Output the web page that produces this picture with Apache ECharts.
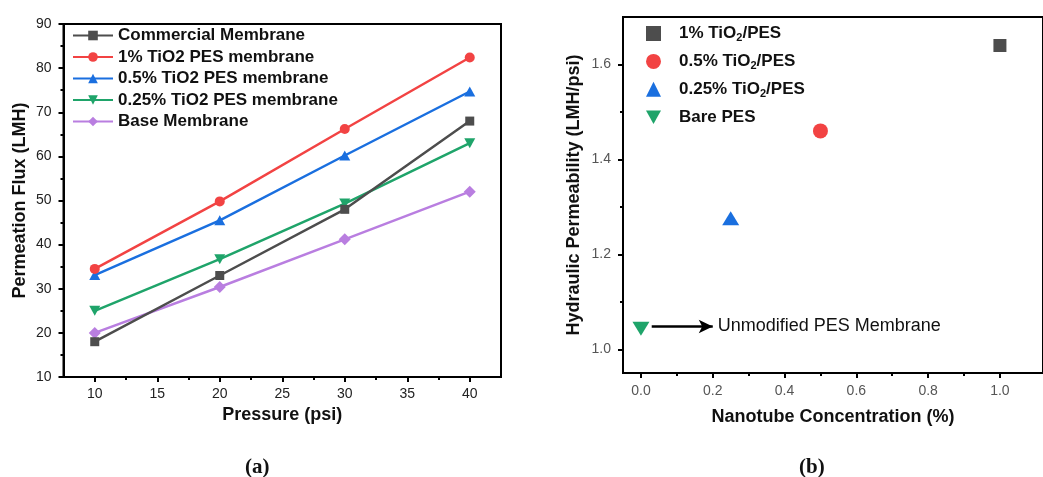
<!DOCTYPE html>
<html>
<head>
<meta charset="utf-8">
<script src="https://cdn.jsdelivr.net/npm/echarts@6/dist/echarts.min.js"></script>
<style>
html,body{margin:0;padding:0;background:#fff;}
#chart{width:1043px;height:477px;}
</style>
</head>
<body>
<div id="chart"></div>
<script>
// ---------- Panel (a) data ----------
const pressures = [10, 20, 30, 40];
const commercial = [18, 33, 48, 68];
const tio2_1 = [34.5, 49.8, 66.2, 82.4];
const tio2_05 = [33.1, 45.5, 60.2, 74.7];
const tio2_025 = [25, 36.7, 49.3, 63];
const baseMembrane = [20, 30.4, 41.2, 52];
const seriesNamesA = ['Commercial Membrane', '1% TiO2 PES membrane', '0.5% TiO2 PES membrane', '0.25% TiO2 PES membrane', 'Base Membrane'];
const xTicksA = [10, 15, 20, 25, 30, 35, 40];
const xMinorA = [12.5, 17.5, 22.5, 27.5, 32.5, 37.5];

// ---------- Panel (b) data ----------
const concentrations = [1.0, 0.5, 0.25, 0.0];
const permeability = [1.64, 1.46, 1.276, 1.043];
const seriesNamesB = ['1% TiO2/PES', '0.5% TiO2/PES', '0.25% TiO2/PES', 'Bare PES'];
const xTicksB = [0.0, 0.2, 0.4, 0.6, 0.8, 1.0];
const xMinorB = [0.1, 0.3, 0.5, 0.7, 0.9];
const yTicksB = [1.0, 1.2, 1.4, 1.6];
const yMinorB = [1.1, 1.3, 1.5];
const annotationText = 'Unmodified PES Membrane';

const colors = ['#4d4d4d', '#f24343', '#1a6fdf', '#1fa46a', '#b97ee0'];
const downTri = 'path://M0,0 L10,0 L5,9 Z';
const symbolsA = ['rect', 'circle', 'triangle', downTri, 'diamond'];
const symSizeA = [9, 10, [11, 10], [11, 10], [12, 12]];
const symbolsB = ['rect', 'circle', 'triangle', downTri];
const symSizeB = [13, 15, [17, 14], [17, 14]];

const FONT = '"Liberation Sans", Arial, sans-serif';
const chart = echarts.init(document.getElementById('chart'), null, {renderer: 'canvas'});

const ptsA = [commercial, tio2_1, tio2_05, tio2_025, baseMembrane];
const seriesA = seriesNamesA.map((n, i) => ({
  name: n, type: 'line', xAxisIndex: 0, yAxisIndex: 0,
  data: pressures.map((p, j) => [p, ptsA[i][j]]),
  symbol: symbolsA[i], symbolSize: symSizeA[i], showSymbol: true,
  lineStyle: {color: colors[i], width: 2.5}, itemStyle: {color: colors[i]},
  z: 10 - i
}));
const colorsB = [colors[0], colors[1], colors[2], colors[3]];
const seriesB = seriesNamesB.map((n, i) => {
  const s = {
    name: n, type: 'scatter', xAxisIndex: 2, yAxisIndex: 1,
    data: [[concentrations[i], permeability[i]]],
    symbol: symbolsB[i], symbolSize: symSizeB[i],
    itemStyle: {color: colorsB[i], opacity: 1}
  };
  if (i === 3) {
    s.markLine = {
      silent: true, symbol: ['none', 'arrow'], symbolSize: [10, 14],
      lineStyle: {color: '#000', width: 2.5, type: 'solid'},
      label: {show: true, position: 'end', formatter: annotationText, color: '#111', fontSize: 18, fontFamily: FONT, distance: 5},
      data: [[{coord: [0.03, 1.048]}, {coord: [0.2, 1.048]}]]
    };
  }
  return s;
});

const tickLabelA = {fontSize: 14, color: '#222', fontFamily: FONT};
const tickLabelB = {fontSize: 14, color: '#555', fontFamily: FONT};
const nameStyle = {fontSize: 18, fontWeight: 'bold', color: '#111', fontFamily: FONT};
const axLine = {show: true, onZero: false, lineStyle: {color: '#000', width: 2}};

const option = {
  backgroundColor: '#fff',
  animation: false,
  title: [
    {text: '{p|(}{b|a}{p|)}', left: 240, top: 452, textStyle: {rich: {
      p: {fontSize: 21, fontFamily: '"Liberation Serif", serif', color: '#111'},
      b: {fontSize: 21, fontWeight: 'bold', fontFamily: '"Liberation Serif", serif', color: '#111'}}}},
    {text: '{p|(}{b|b}{p|)}', left: 794, top: 452, textStyle: {rich: {
      p: {fontSize: 21, fontFamily: '"Liberation Serif", serif', color: '#111'},
      b: {fontSize: 21, fontWeight: 'bold', fontFamily: '"Liberation Serif", serif', color: '#111'}}}}
  ],
  legend: [
    {
      data: seriesNamesA, orient: 'vertical', left: 67, top: 22,
      itemWidth: 40, itemHeight: 12, itemGap: 4.5,
      textStyle: {fontSize: 17, fontWeight: 'bold', color: '#111', fontFamily: FONT}
    },
    {
      data: seriesNamesB, orient: 'vertical', left: 641, top: 20,
      itemWidth: 15, itemHeight: 15, itemGap: 9.4,
      formatter: n => '{w|}' + n.replace('TiO2', 'TiO{s|2}'),
      textStyle: {fontSize: 17, fontWeight: 'bold', color: '#111', fontFamily: FONT,
        rich: {
          w: {width: 13},
          s: {fontSize: 11, fontWeight: 'bold', color: '#111', fontFamily: FONT, padding: [9, 0, 0, 0]}
        }}
    }
  ],
  grid: [
    {left: 63.5, top: 24, width: 437.5, height: 353, show: true, borderColor: '#000', borderWidth: 2, containLabel: false},
    {left: 623, top: 17, width: 441, height: 356, show: true, borderColor: '#000', borderWidth: 2, containLabel: false}
  ],
  xAxis: [
    {type: 'value', gridIndex: 0, min: 7.5, max: 42.5, position: 'bottom',
      axisLine: axLine,
      axisTick: {show: true, customValues: xTicksA, length: 5, lineStyle: {color: '#000', width: 2}},
      axisLabel: Object.assign({customValues: xTicksA, margin: 10}, tickLabelA),
      splitLine: {show: false},
      name: 'Pressure (psi)', nameLocation: 'middle', nameGap: 29, nameTextStyle: nameStyle},
    {type: 'value', gridIndex: 0, min: 7.5, max: 42.5, position: 'bottom',
      axisLine: {show: false, onZero: false},
      axisTick: {show: true, customValues: xMinorA, length: 3, lineStyle: {color: '#000', width: 2}},
      axisLabel: {show: false}, splitLine: {show: false}},
    {type: 'value', gridIndex: 1, min: -0.05, max: 1.12, position: 'bottom',
      axisLine: axLine,
      axisTick: {show: true, customValues: xTicksB, length: 5, lineStyle: {color: '#000', width: 2}},
      axisLabel: Object.assign({customValues: xTicksB, margin: 11, formatter: v => v.toFixed(1)}, tickLabelB),
      splitLine: {show: false},
      name: 'Nanotube Concentration (%)', nameLocation: 'middle', nameGap: 35, nameTextStyle: nameStyle},
    {type: 'value', gridIndex: 1, min: -0.05, max: 1.12, position: 'bottom',
      axisLine: {show: false, onZero: false},
      axisTick: {show: true, customValues: xMinorB, length: 3, lineStyle: {color: '#000', width: 2}},
      axisLabel: {show: false}, splitLine: {show: false}}
  ],
  yAxis: [
    {type: 'value', gridIndex: 0, min: 10, max: 90, interval: 10, position: 'left',
      axisLine: axLine,
      axisTick: {show: true, length: 5, lineStyle: {color: '#000', width: 2}},
      minorTick: {show: true, splitNumber: 2, length: 3, lineStyle: {color: '#000', width: 2}},
      axisLabel: Object.assign({margin: 12}, tickLabelA),
      splitLine: {show: false}, minorSplitLine: {show: false},
      name: 'Permeation Flux (LMH)', nameLocation: 'middle', nameGap: 34, nameTextStyle: nameStyle},
    {type: 'value', gridIndex: 1, min: 0.95, max: 1.70, position: 'left',
      axisLine: axLine,
      axisTick: {show: true, customValues: yTicksB, length: 5, lineStyle: {color: '#000', width: 2}},
      axisLabel: Object.assign({customValues: yTicksB, margin: 12, formatter: v => v.toFixed(1)}, tickLabelB),
      splitLine: {show: false},
      name: 'Hydraulic Permeability (LMH/psi)', nameLocation: 'middle', nameGap: 40, nameTextStyle: nameStyle},
    {type: 'value', gridIndex: 1, min: 0.95, max: 1.70, position: 'left',
      axisLine: {show: false, onZero: false},
      axisTick: {show: true, customValues: yMinorB, length: 3, lineStyle: {color: '#000', width: 2}},
      axisLabel: {show: false}, splitLine: {show: false}}
  ],
  series: seriesA.concat(seriesB)
};
chart.setOption(option);
</script>
</body>
</html>
